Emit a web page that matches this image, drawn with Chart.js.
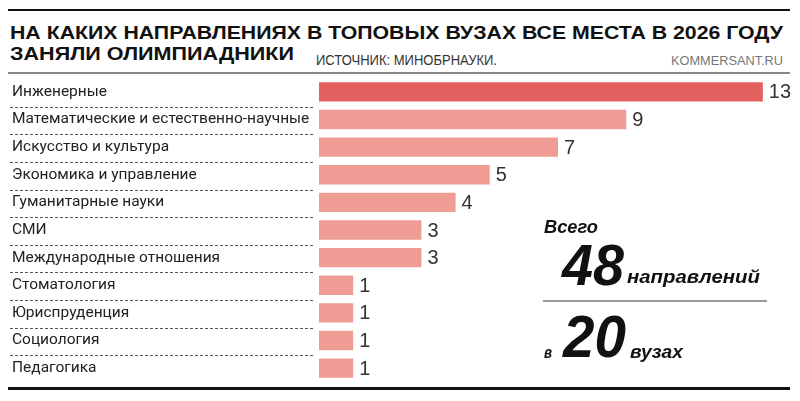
<!DOCTYPE html>
<html lang="ru">
<head>
<meta charset="utf-8">
<script src="https://cdn.jsdelivr.net/npm/chart.js@4/dist/chart.umd.min.js"></script>
<style>
  html, body { margin: 0; padding: 0; background: #fff; }
  #page { position: relative; width: 800px; height: 401px; overflow: hidden; }
  #chartBox { position: absolute; left: 0; top: 0; width: 800px; height: 401px; }
  .rule { position: absolute; }
  .txt { position: absolute; white-space: nowrap; display: inline-block; transform-origin: 0 0;
         font-family: "Liberation Sans", Arial, sans-serif; line-height: 1; }
  .head { font-weight: bold; font-size: 19px; color: #111; }
  .note { font-weight: bold; font-style: italic; color: #111; }
</style>
</head>
<body>
<div id="page">
  <div class="rule" style="left:8px;top:9px;width:782px;height:2px;background:#111"></div>
  <div class="txt head" data-w="773" style="left:10px;top:23px">НА КАКИХ НАПРАВЛЕНИЯХ В ТОПОВЫХ ВУЗАХ ВСЕ МЕСТА В 2026 ГОДУ</div>
  <div class="txt head" data-w="284" style="left:10px;top:44px">ЗАНЯЛИ ОЛИМПИАДНИКИ</div>
  <div class="txt" data-w="181" style="left:316px;top:53px;font-size:14px;color:#333">ИСТОЧНИК: МИНОБРНАУКИ.</div>
  <div class="txt" data-w="112" style="left:671px;top:54px;font-size:13px;color:#777">KOMMERSANT.RU</div>
  <div class="rule" style="left:8px;top:72px;width:782px;height:2px;background:#888"></div>

  <div id="chartBox"><canvas id="chart"></canvas></div>

  <div class="txt note" data-w="54" style="left:544px;top:218px;font-size:18px">Всего</div>
  <div class="txt note" data-w="62" style="left:562px;top:237px;font-size:57px">48</div>
  <div class="txt note" data-w="133" style="left:627px;top:267px;font-size:19px">направлений</div>
  <div class="rule" style="left:543px;top:300px;width:224px;height:2px;background:#999"></div>
  <div class="txt note" data-w="8" style="left:544px;top:344px;font-size:17px">в</div>
  <div class="txt note" data-w="63" style="left:563px;top:307px;font-size:60px">20</div>
  <div class="txt note" data-w="53" style="left:630px;top:342px;font-size:19px">вузах</div>

  <div class="rule" style="left:8px;top:387px;width:782px;height:3px;background:#111"></div>
</div>
<script>
// data
var categories = [
  'Инженерные',
  'Математические и естественно-научные',
  'Искусство и культура',
  'Экономика и управление',
  'Гуманитарные науки',
  'СМИ',
  'Международные отношения',
  'Стоматология',
  'Юриспруденция',
  'Социология',
  'Педагогика'
];
var counts = [13, 9, 7, 5, 4, 3, 3, 1, 1, 1, 1];

// squeeze/stretch the text blocks to the widths in the picture
var fitText = function(){
    var els = document.querySelectorAll('.txt[data-w]');
    for (var i = 0; i < els.length; i++) {
        var el = els[i];
        var w = el.getBoundingClientRect().width;
        var target = parseFloat(el.getAttribute('data-w'));
        if (w > 0) el.style.transform = 'scaleX(' + (target / w) + ')';
    }
};
fitText();

// dotted rules between the rows, in the label column
var rowRules = {
    id: 'rowRules',
    afterDraw: function(chart){
        var yScale = chart.scales.y;
        var ctx = chart.ctx;
        ctx.save();
        ctx.setLineDash([3, 2]);
        ctx.strokeStyle = '#555';
        ctx.lineWidth = 1;
        for (var i = 1; i < categories.length; i++) {
            var py = Math.round((yScale.getPixelForValue(i - 1) + yScale.getPixelForValue(i)) / 2) + 1.5;
            ctx.beginPath();
            ctx.moveTo(10, py);
            ctx.lineTo(313, py);
            ctx.stroke();
        }
        ctx.restore();
    }
};

// numbers at the end of the bars
var valueLabels = {
    id: 'valueLabels',
    afterDatasetsDraw: function(chart){
        var ctx = chart.ctx;
        var meta = chart.getDatasetMeta(0);
        ctx.save();
        ctx.font = '20px "Liberation Sans", Arial, sans-serif';
        ctx.fillStyle = '#333';
        ctx.textAlign = 'left';
        ctx.textBaseline = 'middle';
        meta.data.forEach(function(bar, i){
            ctx.fillText(String(counts[i]), bar.x + 6, bar.y + 1);
        });
        ctx.restore();
    }
};

var ctx = document.getElementById('chart').getContext('2d');
var chartObj = new Chart(ctx, {
    type: 'bar',
    data: {
        labels: categories,
        datasets: [{
            data: counts,
            backgroundColor: counts.map(function(v, i){ return i === 0 ? '#e4605f' : '#ee9c94'; }),
            borderWidth: 0,
            barPercentage: 0.7,
            categoryPercentage: 1.0
        }]
    },
    options: {
        indexAxis: 'y',
        responsive: true,
        maintainAspectRatio: false,
        animation: false,
        layout: { padding: { top: 78, bottom: 19, left: 12, right: 3 } },
        plugins: {
            legend: { display: false },
            tooltip: { enabled: false }
        },
        scales: {
            x: { min: 0, max: 14, display: false },
            y: {
                grid: { display: false },
                border: { display: false },
                ticks: {
                    crossAlign: 'far',
                    padding: 0,
                    color: '#222',
                    font: { family: 'Roboto, "Liberation Sans", Arial, sans-serif', size: 15.5 }
                },
                afterFit: function(scale){ scale.width = 307; }
            }
        }
    },
    plugins: [rowRules, valueLabels]
});
</script>
</body>
</html>
